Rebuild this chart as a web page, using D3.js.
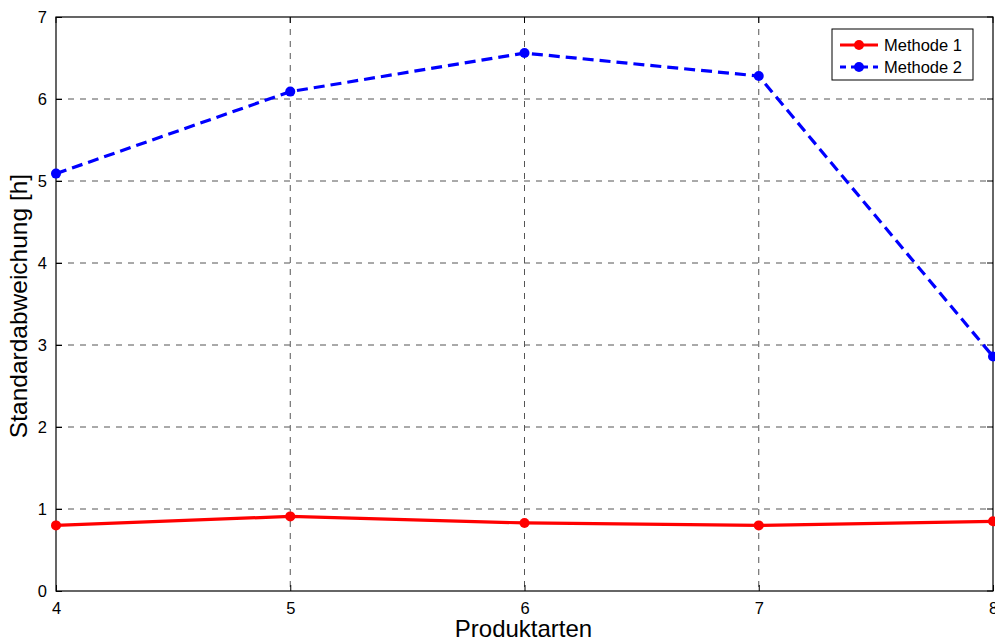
<!DOCTYPE html>
<html><head><meta charset="utf-8">
<script src="https://cdn.jsdelivr.net/npm/d3@7"></script>
<style>body{margin:0;background:#fff;} text{font-family:"Liberation Sans",Arial,sans-serif;}</style>
</head><body>
<svg id="c" width="995" height="641"></svg>
<script>
const categories = [4, 5, 6, 7, 8];
const methode1 = [0.80, 0.91, 0.83, 0.80, 0.85];
const methode2 = [5.09, 6.09, 6.56, 6.28, 2.86];
const xTicks = [4, 5, 6, 7, 8];
const yTicks = [0, 1, 2, 3, 4, 5, 6, 7];
const seriesNames = ["Methode 1", "Methode 2"];

const svg = d3.select("#c");
const L = 56, R = 993, T = 17, B = 591;
const x = d3.scaleLinear().domain([4, 8]).range([L, R]);
const y = d3.scaleLinear().domain([0, 7]).range([B, T]);

// grid
const g = svg.append("g");
g.selectAll(".gx").data(xTicks.slice(1, -1)).enter().append("line")
  .attr("x1", d => x(d)).attr("x2", d => x(d)).attr("y1", T).attr("y2", B)
  .attr("stroke", "#555").attr("stroke-width", 1).attr("stroke-dasharray", "6,6");
g.selectAll(".gy").data(yTicks.slice(1, -1)).enter().append("line")
  .attr("y1", d => y(d)).attr("y2", d => y(d)).attr("x1", L).attr("x2", R)
  .attr("stroke", "#555").attr("stroke-width", 1).attr("stroke-dasharray", "6,6");

// axes box
svg.append("rect").attr("x", L).attr("y", T).attr("width", R - L).attr("height", B - T)
  .attr("fill", "none").attr("stroke", "#000").attr("stroke-width", 1.2);

// inner ticks
const xAxis = d3.axisBottom(x).tickValues(xTicks).tickSizeInner(-6).tickSizeOuter(0).tickPadding(11).tickFormat(d3.format("d"));
const ax = svg.append("g").attr("transform", `translate(0,${B})`).call(xAxis);
const yAxis = d3.axisLeft(y).tickValues(yTicks).tickSizeInner(-6).tickSizeOuter(0).tickPadding(9).tickFormat(d3.format("d"));
const ay = svg.append("g").attr("transform", `translate(${L},0)`).call(yAxis);
[ax, ay].forEach(a => {
  a.select(".domain").remove();
  a.selectAll("text").attr("font-size", 16.5).attr("fill", "#000").style("font-family", "Liberation Sans, Arial, sans-serif");
  a.selectAll("line").attr("stroke", "#000");
});
// top/right ticks
svg.selectAll(".tt").data(xTicks).enter().append("line")
  .attr("x1", d => x(d)).attr("x2", d => x(d)).attr("y1", T).attr("y2", T + 6).attr("stroke", "#000");
svg.selectAll(".rt").data(yTicks).enter().append("line")
  .attr("y1", d => y(d)).attr("y2", d => y(d)).attr("x1", R).attr("x2", R - 6).attr("stroke", "#000");

// series
const line = d3.line().x((d, i) => x(categories[i])).y(d => y(d));
svg.append("path").datum(methode1).attr("d", line).attr("fill", "none")
  .attr("stroke", "#ff0000").attr("stroke-width", 3.2);
svg.selectAll(".m1").data(methode1).enter().append("circle")
  .attr("cx", (d, i) => x(categories[i])).attr("cy", d => y(d)).attr("r", 5).attr("fill", "#ff0000");
svg.append("path").datum(methode2).attr("d", line).attr("fill", "none")
  .attr("stroke", "#0000ff").attr("stroke-width", 3.2).attr("stroke-dasharray", "11,6");
svg.selectAll(".m2").data(methode2).enter().append("circle")
  .attr("cx", (d, i) => x(categories[i])).attr("cy", d => y(d)).attr("r", 5).attr("fill", "#0000ff");

// labels
svg.append("text").attr("x", x(6) - 1).attr("y", 637).attr("text-anchor", "middle")
  .attr("font-size", 24).text("Produktarten");
svg.append("text").attr("transform", `translate(27,${(T + B) / 2 + 2}) rotate(-90)`).attr("text-anchor", "middle")
  .attr("font-size", 24.5).text("Standardabweichung [h]");

// legend
const lg = svg.append("g");
lg.append("rect").attr("x", 832).attr("y", 29).attr("width", 141).attr("height", 51)
  .attr("fill", "#fff").attr("stroke", "#000").attr("stroke-width", 1);
const colors = ["#ff0000", "#0000ff"];
const dashes = [null, "6,5"];
seriesNames.forEach((n, i) => {
  const yy = 45 + i * 22;
  lg.append("line").attr("x1", 840).attr("x2", 878).attr("y1", yy).attr("y2", yy)
    .attr("stroke", colors[i]).attr("stroke-width", 3.2).attr("stroke-dasharray", dashes[i]);
  lg.append("circle").attr("cx", 859).attr("cy", yy).attr("r", 5).attr("fill", colors[i]);
  lg.append("text").attr("x", 884).attr("y", yy + 6).attr("font-size", 16.5).text(n);
});
</script>
</body></html>
